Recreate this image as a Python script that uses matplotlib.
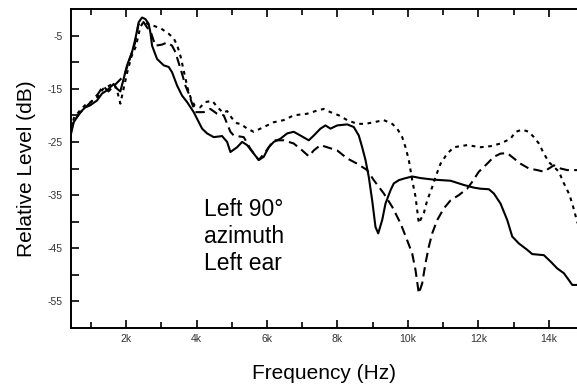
import matplotlib
matplotlib.use("Agg")
import matplotlib.pyplot as plt
from matplotlib.ticker import FixedLocator

plt.rcParams['font.family'] = ['Liberation Sans', 'DejaVu Sans']

freq_solid = [437, 513, 702, 844, 986, 1176, 1318, 1460, 1648, 1744, 1838, 1932, 2028, 2170, 2264,
              2358, 2454, 2548, 2642, 2690, 2738, 2880, 3068, 3210, 3306, 3448, 3590, 3732, 3920, 4158,
              4300, 4488, 4726, 4868, 4962, 5152, 5294, 5436, 5624, 5766, 5908, 6050, 6192, 6382, 6572,
              6760, 6950, 7186, 7328, 7518, 7660, 7802, 7992, 8276, 8464, 8606, 8702, 8796, 8890, 8986,
              9080, 9157, 9270, 9364, 9506, 9600, 9742, 9884, 10122, 10358, 10736, 11210, 11588, 11872, 12062,
              12298, 12440, 12630, 12820, 12962, 13150, 13388, 13530, 13860, 14050, 14240, 14428, 14570, 14666, 14817]
db_solid = [-23.5, -21.3, -19.4, -18.5, -18.1, -17.2, -15.9, -15.3, -14.1, -15.0, -15.5, -13.1, -10.6, -8.1, -5.6,
            -2.5, -1.6, -1.9, -2.8, -4.4, -6.9, -9.4, -10.6, -10.9, -11.9, -14.4, -16.3, -17.5, -19.4, -22.5,
            -23.4, -24.1, -23.9, -25.0, -26.9, -26.0, -25.0, -25.6, -27.2, -28.4, -27.8, -26.0, -25.0, -24.4, -23.4,
            -23.1, -23.8, -24.7, -23.8, -22.5, -21.9, -22.5, -21.9, -21.7, -22.2, -23.8, -26.0, -28.4, -31.6, -36.0,
            -41.0, -42.2, -39.7, -36.6, -34.1, -32.8, -32.2, -31.9, -31.5, -31.8, -32.1, -32.3, -33.1, -33.6, -33.8,
            -33.9, -34.7, -36.6, -39.7, -42.8, -44.1, -45.3, -46.1, -46.3, -47.5, -48.8, -49.7, -51.0, -51.9, -51.9]

freq_dashed = [437, 520, 700, 850, 1000, 1200, 1350, 1500, 1650, 1800, 1950, 2100, 2250, 2350, 2420,
               2500, 2600, 2690, 2830, 3020, 3164, 3306, 3400, 3590, 3684, 3778, 3874, 3968, 4204, 4394,
               4584, 4772, 4962, 5058, 5340, 5530, 5766, 5956, 6192, 6476, 6760, 7000, 7186, 7328, 7518,
               7708, 7992, 8276, 8560, 8844, 9032, 9316, 9554, 9790, 9980, 10122, 10216, 10310, 10406, 10500,
               10594, 10690, 10832, 11020, 11210, 11446, 11682, 11826, 12014, 12250, 12440, 12630, 12820, 13008, 13198,
               13434, 13670, 13860, 14002, 14144, 14334, 14524, 14817]
db_dashed = [-23.0, -21.0, -19.5, -18.5, -17.5, -16.0, -14.5, -15.5, -14.5, -13.5, -12.5, -9.5, -6.5, -3.0, -2.2,
             -2.5, -3.5, -4.1, -6.9, -6.7, -6.3, -6.9, -8.1, -12.2, -14.4, -15.9, -17.8, -19.4, -19.4, -18.8,
             -19.7, -20.0, -23.1, -23.8, -24.1, -26.3, -28.4, -26.9, -24.7, -24.7, -25.3, -26.6, -27.7, -26.6, -25.6,
             -26.0, -26.6, -28.1, -29.1, -30.3, -32.2, -34.7, -37.2, -40.3, -43.5, -46.0, -49.1, -53.5, -51.6, -47.8,
             -44.7, -42.2, -39.7, -37.5, -36.0, -35.0, -33.8, -32.5, -30.6, -29.1, -27.8, -27.2, -27.1, -28.1, -29.1,
             -30.0, -30.3, -30.6, -30.0, -29.4, -30.0, -30.3, -30.3]

freq_dotted = [437, 520, 700, 850, 1000, 1200, 1350, 1500, 1650, 1750, 1838, 1930, 2030, 2150, 2280,
               2400, 2500, 2650, 2800, 3000, 3200, 3350, 3450, 3550, 3650, 3750, 3850, 3950, 4100, 4250,
               4450, 4600, 4750, 4870, 5000, 5150, 5254, 5436, 5624, 5908, 6192, 6476, 6760, 7140, 7424,
               7612, 7802, 8038, 8276, 8560, 8796, 9032, 9316, 9554, 9696, 9838, 9932, 10026, 10122, 10216,
               10310, 10452, 10548, 10690, 10784, 10926, 11116, 11304, 11682, 12062, 12346, 12630, 12914, 13056, 13246,
               13434, 13576, 13718, 13860, 14002, 14144, 14286, 14428, 14570, 14666, 14817]
db_dotted = [-22.5, -20.5, -19.0, -18.0, -17.5, -16.5, -15.0, -14.5, -14.0, -15.5, -17.8, -15.0, -12.0, -9.0, -7.0,
             -3.5, -2.3, -3.0, -3.2, -3.7, -4.6, -5.5, -6.8, -9.0, -12.0, -15.0, -17.0, -18.2, -18.5, -17.5,
             -17.3, -18.5, -19.5, -19.2, -20.5, -21.5, -21.6, -22.5, -23.1, -22.2, -21.3, -20.9, -20.0, -19.7, -19.1,
             -18.8, -19.4, -20.0, -20.9, -21.6, -21.6, -21.3, -20.9, -21.6, -22.5, -24.1, -26.0, -28.4, -32.2, -35.3,
             -40.3, -38.4, -36.0, -33.5, -31.6, -29.1, -27.2, -26.0, -25.6, -26.0, -25.8, -25.3, -24.4, -23.1, -22.7,
             -23.1, -24.1, -25.3, -27.2, -28.8, -29.7, -30.6, -32.8, -34.7, -36.6, -40.3]

x_major = [2000, 4000, 6000, 8000, 10000, 12000, 14000]
x_minor = [1000, 3000, 5000, 7000, 9000, 11000, 13000]
x_labels = ['2k', '4k', '6k', '8k', '10k', '12k', '14k']
y_major = [-5, -15, -25, -35, -45, -55]
y_minor = [-10, -20, -30, -40, -50]
annotation = "Left 90°\nazimuth\nLeft ear"

fig = plt.figure(figsize=(5.77, 3.92), dpi=100)
ax = fig.add_axes([71/577, 1 - 328/392, 1 - 71/577, (328 - 9)/392])

ax.plot(freq_solid, db_solid, color='black', lw=1.5, ls='-')
ax.plot(freq_dashed, db_dashed, color='black', lw=1.5, ls=(0, (4.5, 2.5)))
ax.plot(freq_dotted, db_dotted, color='black', lw=1.5, ls=(0, (1.8, 2.2)))

ax.set_xlim(437, 14800)
ax.set_ylim(-60, 0)

ax.xaxis.set_major_locator(FixedLocator(x_major))
ax.xaxis.set_minor_locator(FixedLocator(x_minor))
ax.set_xticklabels(x_labels)
ax.yaxis.set_major_locator(FixedLocator(y_major))
ax.yaxis.set_minor_locator(FixedLocator(y_minor))
ax.set_yticklabels([str(v) for v in y_major])

ax.tick_params(axis='x', which='both', direction='in', top=True, bottom=True,
               labelsize=7.5, labelcolor='#333333', pad=4, width=1.2)
ax.tick_params(axis='x', which='major', length=6)
ax.tick_params(axis='x', which='minor', length=4)
ax.tick_params(axis='y', which='both', direction='in', left=True, right=False,
               labelsize=7.5, labelcolor='#333333', pad=6, length=6, width=1.2)

for s in ['left', 'bottom', 'top']:
    ax.spines[s].set_linewidth(1.4)
ax.spines['right'].set_visible(False)

ax.set_xlabel('Frequency (Hz)', fontsize=15, labelpad=15)
ax.set_ylabel('Relative Level (dB)', fontsize=15, labelpad=8)

ax.text(4200, -35.6, annotation, fontsize=16.5, va='top', ha='left', linespacing=1.22)

fig.savefig('out.png', dpi=100)
